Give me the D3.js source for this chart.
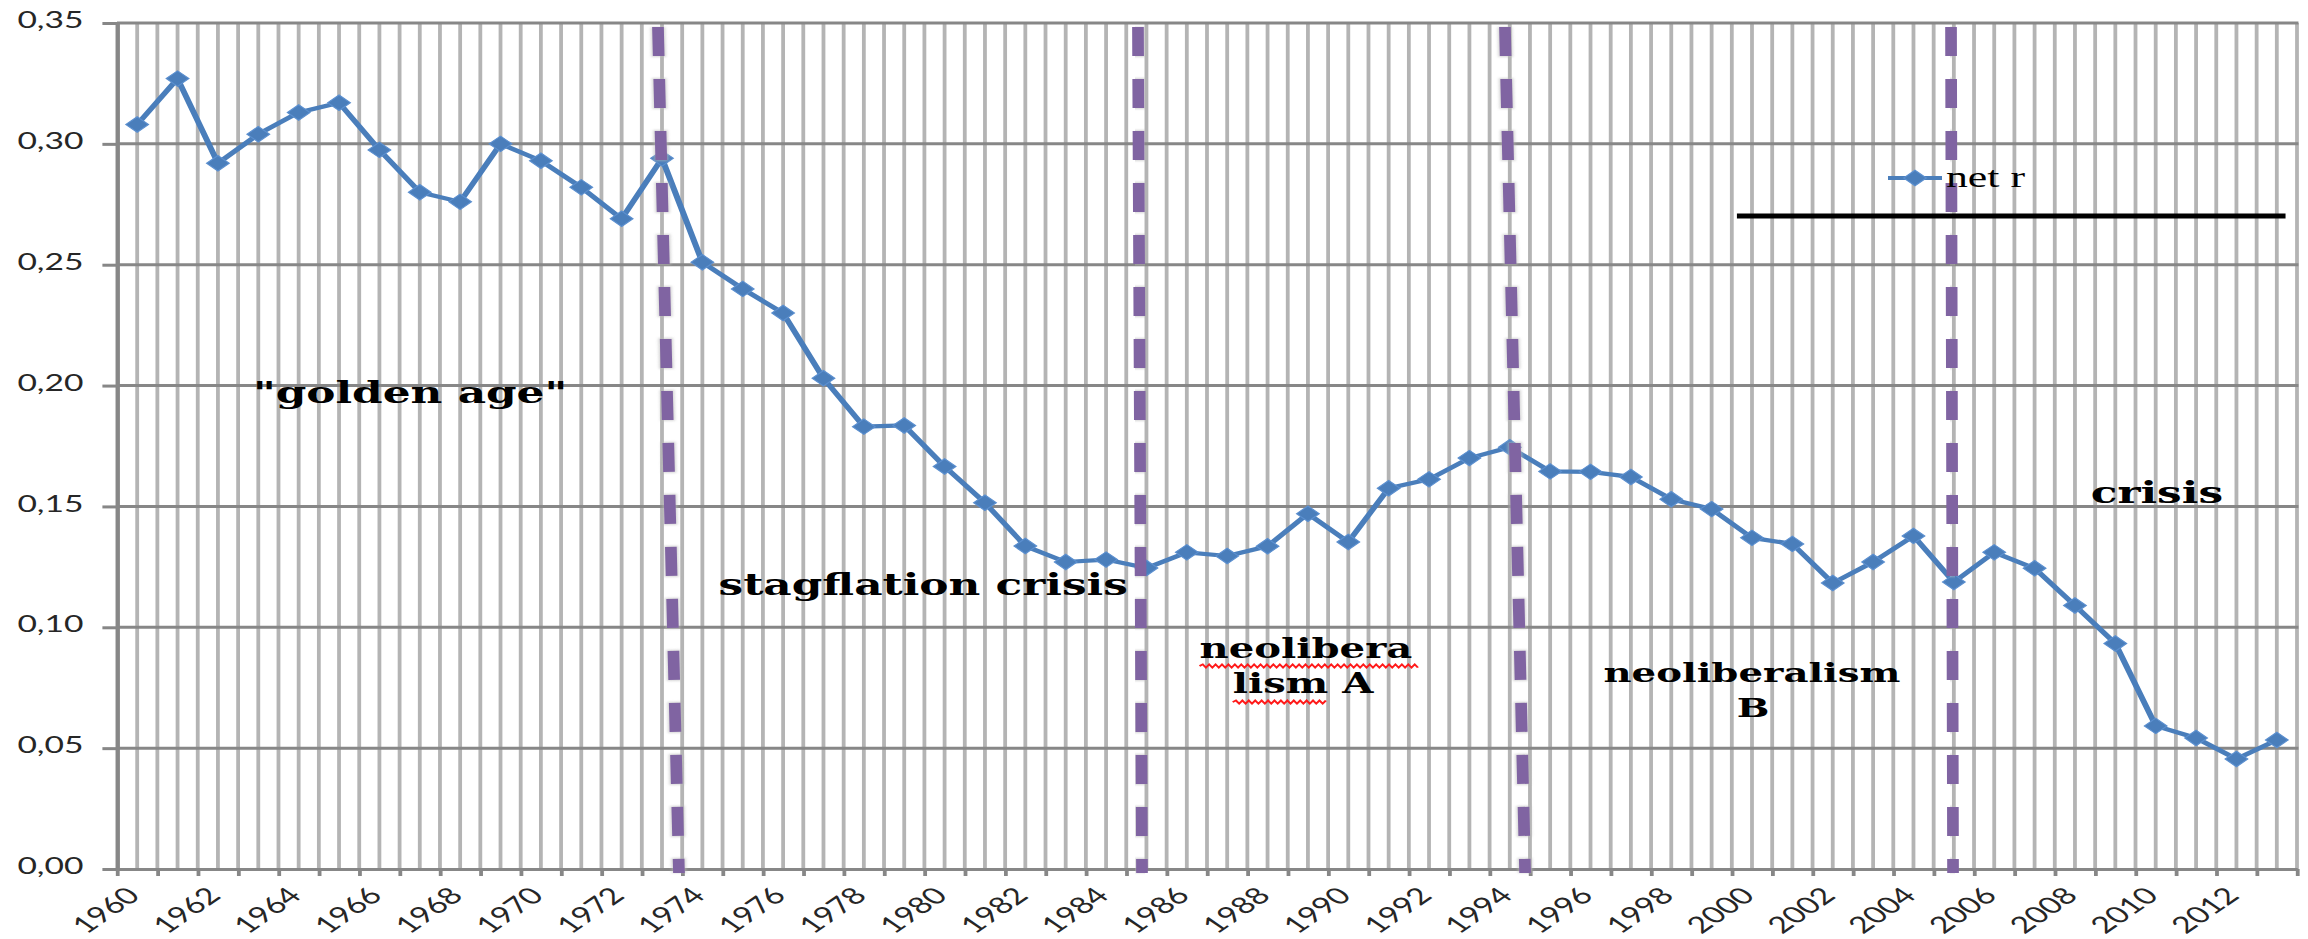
<!DOCTYPE html>
<html><head><meta charset="utf-8">
<script src="https://cdn.jsdelivr.net/npm/d3@7"></script>
<style>html,body{margin:0;padding:0;background:#fff;overflow:hidden}</style>
</head><body>
<svg id="chart"></svg>
<script>
// ---------------- data ----------------
const years = [1960,1961,1962,1963,1964,1965,1966,1967,1968,1969,
  1970,1971,1972,1973,1974,1975,1976,1977,1978,1979,
  1980,1981,1982,1983,1984,1985,1986,1987,1988,1989,
  1990,1991,1992,1993,1994,1995,1996,1997,1998,1999,
  2000,2001,2002,2003,2004,2005,2006,2007,2008,2009,
  2010,2011,2012,2013];
const netR = [0.308,0.327,0.292,0.304,0.313,0.317,0.2975,0.280,0.276,0.300,
  0.293,0.282,0.269,0.294,0.251,0.240,0.230,0.203,0.183,0.1835,
  0.1665,0.1515,0.1336,0.127,0.128,0.1245,0.131,0.1295,0.1335,0.147,
  0.1353,0.1575,0.1612,0.170,0.1745,0.1645,0.1643,0.1622,0.153,0.1489,
  0.137,0.1345,0.1183,0.127,0.1378,0.1187,0.131,0.1244,0.109,0.0933,
  0.0592,0.0542,0.0455,0.0534];
const seriesName = "net r";
const xTickLabels = ["1960","1962","1964","1966","1968","1970","1972","1974","1976","1978",
  "1980","1982","1984","1986","1988","1990","1992","1994","1996","1998",
  "2000","2002","2004","2006","2008","2010","2012"];
const yTicks = [0,0.05,0.10,0.15,0.20,0.25,0.30,0.35];
// dashed period separators (in year units, at top and bottom of plot)
const breakTop    = [1972.90, 1984.79, 1993.88, 2004.93];
const breakBottom = [1973.42, 1984.89, 1994.38, 2004.98];
// annotations: text, year position, value position
const annoText  = ['"golden age"', 'stagflation crisis', 'crisis', 'neolibera', 'lism A', 'neoliberalism', 'B'];
const annoYear  = [1966.76, 1979.47, 2010.03, 1988.95, 1988.88, 2000.00, 2000.03];
const annoValue = [0.1928, 0.1134, 0.1514, 0.0873, 0.0728, 0.0774, 0.0629];
const annoBig   = [true, true, true, false, false, false, false];

// ---------------- layout ----------------
const W = 2308, H = 939, SX = 1.46, W0 = W / SX;
const plotL = 117 / SX, plotR = 2297 / SX, plotT = 23, plotB = 869;

const svg = d3.select('#chart')
  .attr('width', W).attr('height', H)
  .attr('viewBox', `0 0 ${W0} ${H}`)
  .attr('preserveAspectRatio', 'none')
  .style('display', 'block');

svg.append('rect').attr('width', W0).attr('height', H).attr('fill', '#fff');

const defs = svg.append('defs');
defs.append('filter').attr('id', 'shadow').attr('x', '-5%').attr('y', '-200%').attr('width', '110%').attr('height', '500%')
  .append('feGaussianBlur').attr('stdDeviation', '1.3');
defs.append('filter').attr('id', 'soft').attr('x', '-50%').attr('y', '-5%').attr('width', '200%').attr('height', '110%')
  .append('feGaussianBlur').attr('stdDeviation', '1.0');

const x = d3.scaleBand().domain(years).range([plotL, plotR]).padding(0);
const xc = d3.scaleLinear().domain([years[0] - 0.5, years[years.length - 1] + 0.5]).range([plotL, plotR]);
const y = d3.scaleLinear().domain([0, 0.35]).range([plotB, plotT]);
const cx = yr => x(yr) + x.bandwidth() / 2;

// vertical gridlines (category boundaries and centres)
const halfSteps = d3.range(1, years.length * 2 + 1).map(i => years[0] - 0.5 + i / 2);
svg.append('g').selectAll('line').data(halfSteps).join('line')
  .attr('x1', d => xc(d)).attr('x2', d => xc(d))
  .attr('y1', plotT).attr('y2', plotB)
  .attr('stroke', '#b4b4b4').attr('stroke-width', 2.6);

// horizontal gridlines
svg.append('g').selectAll('line').data(yTicks.filter(d => d > 0)).join('line')
  .attr('x1', plotL).attr('x2', plotR + 1)
  .attr('y1', d => y(d)).attr('y2', d => y(d))
  .attr('stroke', '#878787').attr('stroke-width', 3);

// y axis
const fmt = d => d3.format('.2f')(d).replace('.', ',');
const yAxis = svg.append('g').attr('transform', `translate(${plotL},0)`)
  .call(d3.axisLeft(y).tickValues(yTicks).tickSize(10).tickSizeOuter(0).tickPadding(13).tickFormat(fmt));
yAxis.select('.domain').attr('stroke', '#878787').attr('stroke-width', 3);
yAxis.selectAll('.tick line').attr('stroke', '#878787').attr('stroke-width', 3);
yAxis.selectAll('.tick text').attr('font-family', 'Lato, sans-serif').attr('font-size', 23)
  .attr('fill', '#262626').attr('dy', '0.2em');

// x axis
const boundaries = d3.range(0, years.length + 1).map(i => years[0] - 0.5 + i);
const xAxis = svg.append('g').attr('transform', `translate(0,${plotB})`)
  .call(d3.axisBottom(xc).tickValues(boundaries).tickSize(7).tickSizeOuter(0).tickFormat(''));
xAxis.select('.domain').attr('stroke', '#878787').attr('stroke-width', 3);
xAxis.selectAll('.tick line').attr('stroke', '#878787').attr('stroke-width', 2.6);

svg.append('g').selectAll('text').data(xTickLabels).join('text')
  .attr('transform', d => `translate(${cx(+d) + 3},${plotB + 28}) rotate(-45)`)
  .attr('text-anchor', 'end')
  .attr('font-family', 'Lato, sans-serif').attr('font-size', 23).attr('fill', '#262626')
  .text(d => d);

// series line + markers
const pts = years.map((yr, i) => ({ yr, v: netR[i] }));
const blue = '#4a7ebb';
svg.append('path').datum(pts)
  .attr('d', d3.line().x(d => cx(d.yr)).y(d => y(d.v)))
  .attr('fill', 'none').attr('stroke', blue).attr('stroke-width', 4.2)
  .attr('stroke-linejoin', 'round').attr('stroke-linecap', 'round');
const marker = d3.symbol(d3.symbolSquare, 120)();
svg.append('g').selectAll('path').data(pts).join('path')
  .attr('d', marker)
  .attr('transform', d => `translate(${cx(d.yr)},${y(d.v)}) rotate(45)`)
  .attr('fill', blue).attr('stroke', '#5b8fcf').attr('stroke-width', 1);

// dashed period separators
const brk = svg.append('g');
breakTop.forEach((t, i) => {
  brk.append('line')
    .attr('x1', xc(t)).attr('y1', plotT + 4).attr('x2', xc(breakBottom[i])).attr('y2', plotB + 4)
    .attr('stroke', '#b9b9b9').attr('stroke-width', 10).attr('stroke-dasharray', '31 21')
    .attr('stroke-dashoffset', 1).attr('opacity', 0.6).attr('filter', 'url(#soft)');
  brk.append('line')
    .attr('x1', xc(t)).attr('y1', plotT + 4).attr('x2', xc(breakBottom[i])).attr('y2', plotB + 4)
    .attr('stroke', '#8064a2').attr('stroke-width', 8).attr('stroke-dasharray', '29 23');
});

// annotations
const anno = svg.append('g');
const annoNodes = annoText.map((t, i) => anno.append('text')
  .attr('x', xc(annoYear[i])).attr('y', y(annoValue[i]))
  .attr('text-anchor', 'middle')
  .attr('font-family', '"DejaVu Serif", serif').attr('font-weight', 'bold')
  .attr('font-size', annoBig[i] ? 30 : (i === 3 || i === 4 ? 27.5 : 26.5)).attr('fill', '#000')
  .text(t));

// red spell-check squiggles under "neolibera" and "lism"
function squiggle(x0, x1, yy) {
  const p = d3.path();
  const step = 2.2;
  p.moveTo(x0, yy);
  let k = 0;
  for (let xx = x0 + step; xx <= x1; xx += step, k++) p.lineTo(xx, yy + (k % 2 === 0 ? -1.6 : 1.6));
  return p.toString();
}
{
  const n1 = annoNodes[3].node();
  const b1 = n1.getBBox();
  anno.append('path').attr('d', squiggle(b1.x, b1.x + b1.width + 6, y(annoValue[3]) + 8))
    .attr('fill', 'none').attr('stroke', '#ff1a1a').attr('stroke-width', 1.6);
  const n2 = annoNodes[4].node();
  const b2 = n2.getBBox();
  const wL = n2.getSubStringLength(0, 4);
  anno.append('path').attr('d', squiggle(b2.x, b2.x + wL, y(annoValue[4]) + 9))
    .attr('fill', 'none').attr('stroke', '#ff1a1a').attr('stroke-width', 1.6);
}

// legend
const lg = svg.append('g');
const lgL = 1734 / SX, lgR = 2287 / SX, lgT = 147, lgB = 216;
lg.append('line').attr('x1', lgL).attr('x2', lgL).attr('y1', lgT).attr('y2', lgB)
  .attr('stroke', '#9a9a9a').attr('stroke-width', 2.2).attr('filter', 'url(#soft)');
lg.append('line').attr('x1', lgR).attr('x2', lgR).attr('y1', lgT).attr('y2', lgB)
  .attr('stroke', '#9a9a9a').attr('stroke-width', 2.2).attr('filter', 'url(#soft)');
lg.append('line').attr('x1', lgL + 2).attr('x2', lgR).attr('y1', lgB + 3).attr('y2', lgB + 3)
  .attr('stroke', '#555').attr('stroke-width', 7).attr('filter', 'url(#shadow)');
lg.append('line').attr('x1', lgL + 2).attr('x2', lgR - 1).attr('y1', lgB).attr('y2', lgB)
  .attr('stroke', '#000').attr('stroke-width', 5);
const lgY = 178;
lg.append('line').attr('x1', 1888 / SX).attr('x2', 1942 / SX).attr('y1', lgY).attr('y2', lgY)
  .attr('stroke', blue).attr('stroke-width', 4.2);
lg.append('path').attr('d', marker)
  .attr('transform', `translate(${1915 / SX},${lgY}) rotate(45)`)
  .attr('fill', blue).attr('stroke', '#5b8fcf').attr('stroke-width', 1);
lg.append('text').attr('x', 1946 / SX).attr('y', 187)
  .attr('font-family', '"Liberation Serif", serif').attr('font-size', 30).attr('fill', '#000')
  .text(seriesName);
</script>
</body></html>
